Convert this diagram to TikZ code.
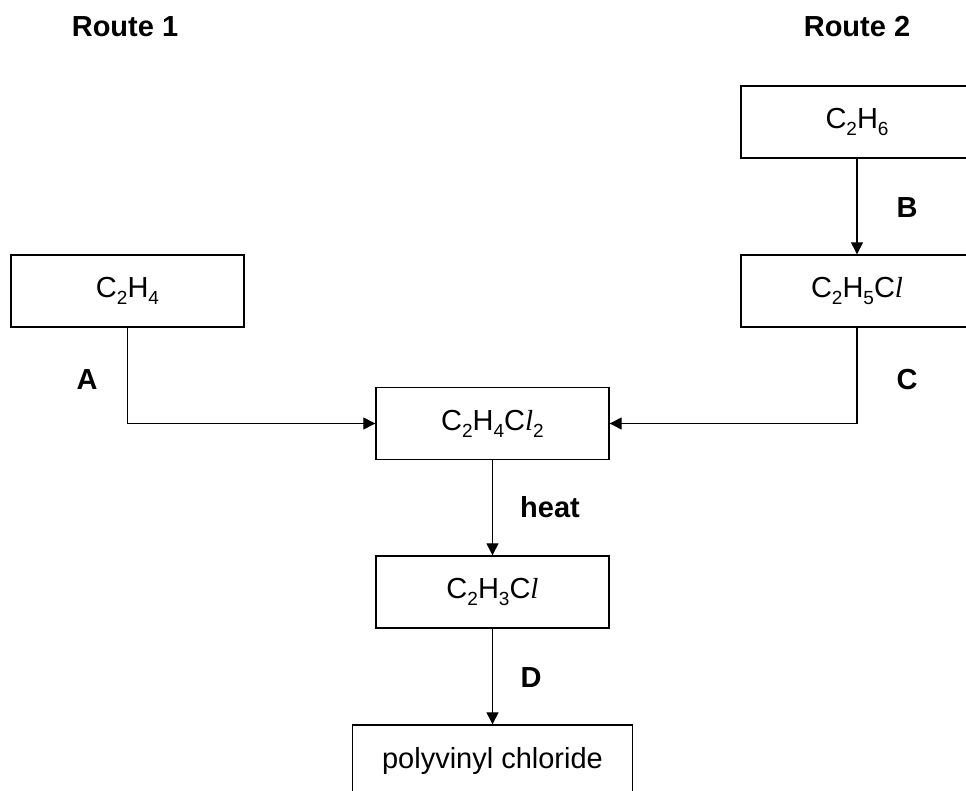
\documentclass[tikz,border=0pt]{standalone}
\usepackage{fontspec}
\setmainfont{Liberation Sans}
\newfontfamily\lserif{Liberation Serif}
\usetikzlibrary{arrows.meta}
\newcommand{\chsub}[1]{\raisebox{-7pt}{\fontsize{19}{19}\selectfont #1}}
\newcommand{\chl}{{\lserif\itshape l}}
\begin{document}
\begin{tikzpicture}[x=1pt,y=-1pt,
  box/.style={draw,line width=1.4pt,minimum height=72pt,inner sep=0pt,font=\fontsize{29}{29}\selectfont},
  lbl/.style={font=\fontsize{29}{29}\selectfont\bfseries},
  conn/.style={line width=1.3pt,-{Triangle[length=12pt,width=12pt]}},
  plain/.style={line width=1.3pt}]
\useasboundingbox (0,0) rectangle (966,791);
\clip (0,0) rectangle (966,791);
\node[lbl] (r1) at (125,27) {Route 1};
\node[lbl] (r2) at (857,27) {Route 2};
\node[box,minimum width=233pt] (e) at (127.5,291) {C\chsub{2}H\chsub{4}};
\node[box,minimum width=232pt] (ethane) at (857,122) {C\chsub{2}H\chsub{6}};
\node[box,minimum width=232pt] (chloro) at (857,291) {C\chsub{2}H\chsub{5}C\chl};
\node[box,minimum width=233pt] (dcl) at (492.5,423.5) {C\chsub{2}H\chsub{4}C\chl\chsub{2}};
\node[box,minimum width=233pt] (vc) at (492.5,592) {C\chsub{2}H\chsub{3}C\chl};
\node[box,minimum width=280pt] (pvc) at (492.5,761) {polyvinyl chloride};
\draw[conn] (e.south) |- (dcl.west);
\draw[conn] (chloro.south) |- (dcl.east);
\draw[conn] (ethane.south) -- (chloro.north);
\draw[conn] (dcl.south) -- (vc.north);
\draw[conn] (vc.south) -- (pvc.north);
\node[lbl] (la) at (87,380) {A};
\node[lbl] (lb) at (907,208) {B};
\node[lbl] (lc) at (907,380) {C};
\node[lbl] (lh) at (550,507) {heat};
\node[lbl] (ld) at (531,678) {D};
\end{tikzpicture}
\end{document}
